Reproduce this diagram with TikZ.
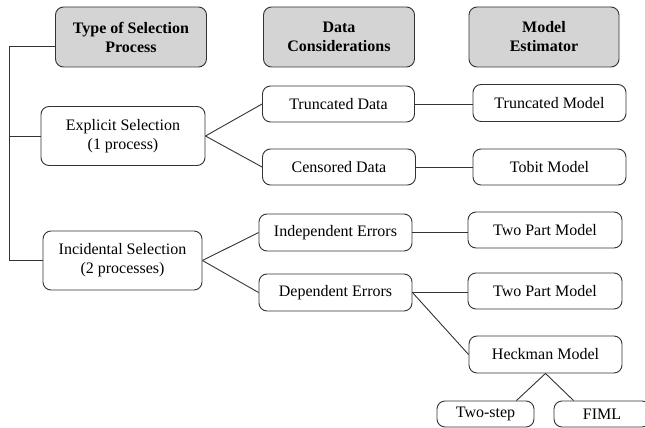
\documentclass[tikz,border=0pt]{standalone}
\usepackage{fontspec}
\setmainfont{Liberation Serif}
\usetikzlibrary{positioning}

\tikzset{
  box/.style={draw=black!80, line width=0.9pt, rounded corners=8pt, align=center,
    inner sep=0pt, font=\fontsize{16}{19}\selectfont},
  headbox/.style={box, fill=black!17, font=\bfseries\fontsize{16}{19}\selectfont},
  link/.style={draw=black!80, line width=0.9pt}
}

\begin{document}
\begin{tikzpicture}[x=1pt, y=-1pt]
        \useasboundingbox (0,0) rectangle (645,428);
        \clip (0,0) rectangle (645,428);

        % column heads
        \node [headbox, minimum width=151pt, minimum height=60pt] (type) at (131,37) {Type of Selection\\Process};
        \node [headbox, minimum width=151pt, minimum height=60pt] (data) at (339,37) {Data\\Considerations};
        \node [headbox, minimum width=150pt, minimum height=60pt] (model) at (544,37) {Model\\Estimator};

        % selection processes
        \node [box, minimum width=164pt, minimum height=59pt] (explicit) at (123,136) {Explicit Selection\\(1 process)};
        \node [box, minimum width=159pt, minimum height=59pt] (incid) at (122.5,260.5) {Incidental Selection\\(2 processes)};

        % data
        \node [box, minimum width=152pt, minimum height=36pt] (trunc) at (338.5,104) {Truncated Data};
        \node [box, minimum width=153pt, minimum height=36pt] (cens) at (339,167) {Censored Data};
        \node [box, minimum width=153pt, minimum height=37pt] (indep) at (335.5,232.5) {Independent Errors};
        \node [box, minimum width=153pt, minimum height=37pt] (dep) at (335.5,292.5) {Dependent Errors};

        % estimators
        \node [box, minimum width=153pt, minimum height=37pt] (truncm) at (549.5,103) {Truncated Model};
        \node [box, minimum width=153pt, minimum height=36pt] (tobit) at (549.5,167) {Tobit Model};
        \node [box, minimum width=154pt, minimum height=36pt] (twopa) at (545,230) {Two Part Model};
        \node [box, minimum width=154pt, minimum height=36pt] (twopb) at (545,291) {Two Part Model};
        \node [box, minimum width=153pt, minimum height=37pt] (heck) at (545.5,354.5) {Heckman Model};
        \node [box, minimum width=97pt, minimum height=26pt] (twostep) at (485.5,414) {Two-step};
        \node [box, minimum width=96pt, minimum height=26pt] (fiml) at (602,414) {FIML};

        % trunk on the left
        \coordinate (top) at (9,46);
        \draw [link] (type.west |- top) -- (top) |- (incid.west);
        \draw [link] (explicit.west) -- (explicit.west -| top);

        \draw [link] (explicit.east) -- (trunc.west);
        \draw [link] (explicit.east) -- (cens.west);
        \draw [link] (incid.east) -- (indep.west);
        \draw [link] (incid.east) -- (dep.west);

        \draw [link] (trunc.east) -- (trunc.east -| truncm.west);
        \draw [link] (cens.east) -- (cens.east -| tobit.west);
        \draw [link] (indep.east) -- (indep.east -| twopa.west);
        \draw [link] (dep.east) -- (dep.east -| twopb.west);
        \draw [link] (dep.east) -- (heck.west);

        \draw [link] (heck.south) -- ([xshift=-18pt]twostep.north east);
        \draw [link] (heck.south) -- ([xshift=20pt]fiml.north west);
\end{tikzpicture}
\end{document}
